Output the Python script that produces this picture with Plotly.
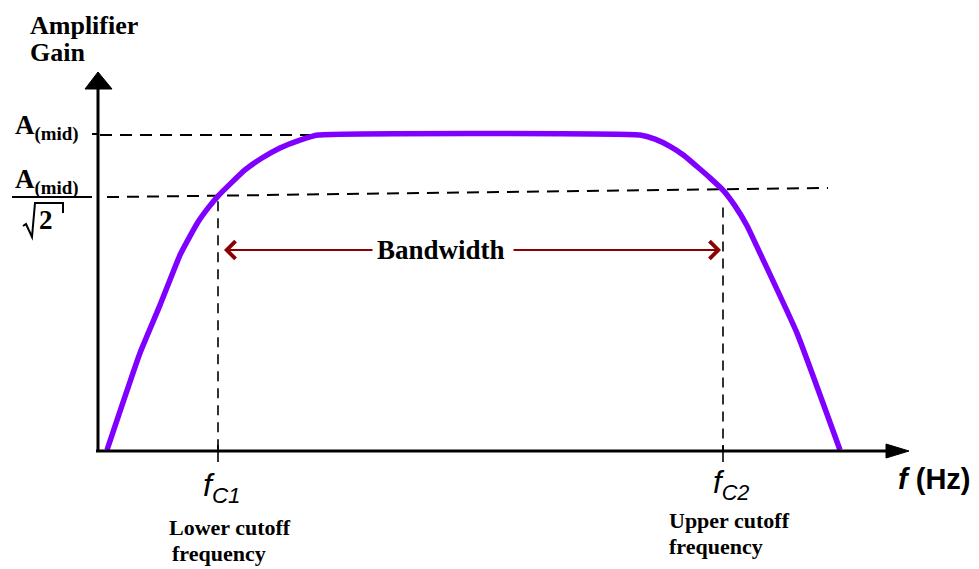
import plotly.graph_objects as go

# ---- data (frequency in arbitrary units, gain normalised to A(mid)=1) ----
freq = [0.9, 4.2, 6.2, 8.2, 9.2, 10.0, 11.0, 12.0, 13.2, 14.7, 16.4, 18.2, 20.2, 22.0,
        54.2, 55.7, 57.2, 58.6, 59.9, 61.2, 62.5, 63.7, 64.9, 66.2, 69.9, 74.2]
gain = [0.0, 0.308, 0.460, 0.619, 0.679, 0.724, 0.768, 0.806, 0.844, 0.889, 0.927, 0.959, 0.984, 1.0,
        1.0, 0.987, 0.964, 0.935, 0.900, 0.864, 0.825, 0.775, 0.712, 0.625, 0.371, 0.0]
fc1 = 12.0
fc2 = 62.5
a_mid = 1.0
cut_level = [0.803, 0.832]   # dashed A(mid)/sqrt(2) reference line (left end, right end)
cut_span = [0.9, 73.0]

# ---- geometry: page pixels -> data (page has an 8px body margin) ----
PAD = 8
W, H = 979 - PAD, 569 - PAD
X0, Y0 = 98, 450          # page pixel of origin
XS, YS = 10.0, 315.0      # pixels per data unit
xr = [(PAD - X0) / XS, (PAD + W - X0) / XS]
yr = [(Y0 - (PAD + H)) / YS, (Y0 - PAD) / YS]

def dx(px):
    return (px - X0) / XS

def dy(py):
    return (Y0 - py) / YS

purple = "#8000ff"
dred = "#8b0000"
serif = "Liberation Serif"
sans = "Liberation Sans"

fig = go.Figure()

# reference dashed lines
fig.add_trace(go.Scatter(x=[dx(100), freq[13]], y=[a_mid, a_mid], mode="lines",
                         line=dict(color="black", width=2, dash="12px,8px"), hoverinfo="skip"))
fig.add_trace(go.Scatter(x=cut_span, y=cut_level, mode="lines",
                         line=dict(color="black", width=2, dash="12px,8px"), hoverinfo="skip"))
for fc, top in [(fc1, 0.79), (fc2, 0.77)]:
    fig.add_trace(go.Scatter(x=[fc, fc], y=[top, dy(450)], mode="lines",
                             line=dict(color="black", width=1.6, dash="10px,7px"), hoverinfo="skip"))
    fig.add_trace(go.Scatter(x=[fc, fc], y=[dy(445), dy(462)], mode="lines",
                             line=dict(color="black", width=1.6), hoverinfo="skip"))

# response curve
fig.add_trace(go.Scatter(x=freq, y=gain, mode="lines",
                         line=dict(color=purple, width=5.5, shape="spline", smoothing=0.4),
                         hoverinfo="skip"))

shapes = []
# axes
shapes.append(dict(type="line", xref="x", yref="y", x0=dx(98), y0=dy(452), x1=dx(98), y1=dy(86),
                   line=dict(color="black", width=3)))
shapes.append(dict(type="path", xref="x", yref="y",
                   path=f"M{dx(85)},{dy(89)} L{dx(112)},{dy(89)} L{dx(98)},{dy(72)} Z",
                   fillcolor="black", line=dict(color="black", width=1)))
shapes.append(dict(type="line", xref="x", yref="y", x0=dx(96), y0=dy(451), x1=dx(890), y1=dy(451),
                   line=dict(color="black", width=3)))
shapes.append(dict(type="path", xref="x", yref="y",
                   path=f"M{dx(886)},{dy(444)} L{dx(886)},{dy(458)} L{dx(909)},{dy(451)} Z",
                   fillcolor="black", line=dict(color="black", width=1)))
# A(mid) tick
shapes.append(dict(type="line", xref="x", yref="y", x0=dx(92), y0=dy(134), x1=dx(98), y1=dy(134),
                   line=dict(color="black", width=2)))
# fraction bar and radical
shapes.append(dict(type="line", xref="x", yref="y", x0=dx(12), y0=dy(197), x1=dx(92), y1=dy(197),
                   line=dict(color="black", width=2)))
shapes.append(dict(type="path", xref="x", yref="y",
                   path=f"M{dx(23)},{dy(226)} L{dx(26)},{dy(224)} L{dx(32)},{dy(237)} L{dx(35)},{dy(203)} L{dx(63)},{dy(203)} L{dx(63)},{dy(213)}",
                   line=dict(color="black", width=2)))

annotations = []
def txt(px, py, text, size, family, color="black", xanchor="center"):
    annotations.append(dict(x=dx(px), y=dy(py), xref="x", yref="y", text=text, showarrow=False,
                            font=dict(size=size, family=family, color=color), xanchor=xanchor,
                            yanchor="middle"))

txt(28, 25, "<b>Amplifier</b>", 26, serif, xanchor="left")
txt(28, 52, "<b>Gain</b>", 26, serif, xanchor="left")
txt(13, 127, "<b>A<sub>(mid)</sub></b>", 27, serif, xanchor="left")
txt(13, 181, "<b>A<sub>(mid)</sub></b>", 27, serif, xanchor="left")
txt(46, 220, "<b>2</b>", 27, serif)
txt(441, 250, "<b>Bandwidth</b>", 27, serif)
txt(222, 487, "<i>f</i><sub><i>C1</i></sub>", 32, sans)
txt(731, 485, "<i>f</i><sub><i>C2</i></sub>", 31, sans)
txt(934, 479, "<b><i>f</i> (Hz)</b>", 29, sans)
txt(167, 527, "<b>Lower cutoff</b>", 22, serif, xanchor="left")
txt(170, 553, "<b>frequency</b>", 22, serif, xanchor="left")
txt(667, 520, "<b>Upper cutoff</b>", 22, serif, xanchor="left")
txt(667, 546, "<b>frequency</b>", 22, serif, xanchor="left")

# bandwidth arrows
for tip, tail in [(224, 374), (721, 512)]:
    annotations.append(dict(x=dx(tip), y=dy(250), xref="x", yref="y", ax=dx(tail), ay=dy(250),
                            axref="x", ayref="y", text="", showarrow=True, arrowhead=4,
                            arrowsize=1.7, arrowwidth=2, arrowcolor=dred))

fig.update_layout(
    width=W, height=H, margin=dict(l=0, r=0, t=0, b=0),
    paper_bgcolor="white", plot_bgcolor="white", showlegend=False,
    xaxis=dict(range=xr, visible=False, fixedrange=True),
    yaxis=dict(range=yr, visible=False, fixedrange=True),
    shapes=shapes, annotations=annotations,
)

fig.write_html("out.html")
